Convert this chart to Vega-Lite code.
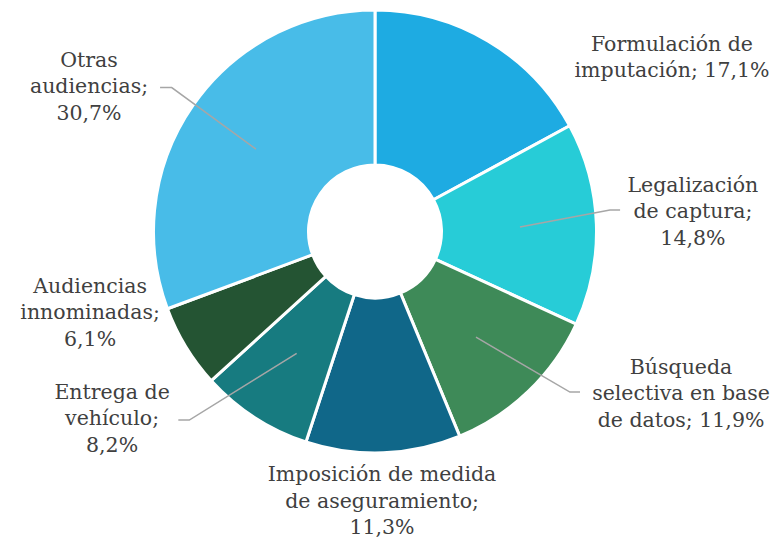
{
  "$schema": "https://vega.github.io/schema/vega-lite/v6.json",
  "width": 750,
  "height": 463,
  "padding": 0,
  "background": "white",
  "config": {"view": {"stroke": null}},
  "datasets": {
    "sectores": [
      {"categoria": "Formulación de imputación", "valor": 17.1, "orden": 1},
      {"categoria": "Legalización de captura", "valor": 14.8, "orden": 2},
      {"categoria": "Búsqueda selectiva en base de datos", "valor": 11.9, "orden": 3},
      {"categoria": "Imposición de medida de aseguramiento", "valor": 11.3, "orden": 4},
      {"categoria": "Entrega de vehículo", "valor": 8.2, "orden": 5},
      {"categoria": "Audiencias innominadas", "valor": 6.1, "orden": 6},
      {"categoria": "Otras audiencias", "valor": 30.7, "orden": 7}
    ],
    "etiquetas": [
      {"etiqueta": "Formulación de\nimputación; 17,1%", "u": 1.35, "v": 0.848},
      {"etiqueta": "Legalización\nde captura;\n14,8%", "u": 1.445, "v": 0.207},
      {"etiqueta": "Búsqueda\nselectiva en base\nde datos; 11,9%", "u": 1.391, "v": -0.62},
      {"etiqueta": "Imposición de medida\nde aseguramiento;\n11,3%", "u": 0.032, "v": -1.107},
      {"etiqueta": "Entrega de\nvehículo;\n8,2%", "u": -1.195, "v": -0.734},
      {"etiqueta": "Audiencias\ninnominadas;\n6,1%", "u": -1.295, "v": -0.252},
      {"etiqueta": "Otras\naudiencias;\n30,7%", "u": -1.3, "v": 0.775}
    ],
    "guias": [
      {"linea": "Otras", "punto": 1, "u": -0.541, "v": 0.374},
      {"linea": "Otras", "punto": 2, "u": -0.924, "v": 0.654},
      {"linea": "Otras", "punto": 3, "u": -0.977, "v": 0.654},
      {"linea": "Legalizacion", "punto": 1, "u": 0.659, "v": 0.02},
      {"linea": "Legalizacion", "punto": 2, "u": 1.068, "v": 0.098},
      {"linea": "Legalizacion", "punto": 3, "u": 1.114, "v": 0.098},
      {"linea": "Busqueda", "punto": 1, "u": 0.459, "v": -0.48},
      {"linea": "Busqueda", "punto": 2, "u": 0.886, "v": -0.73},
      {"linea": "Busqueda", "punto": 3, "u": 0.932, "v": -0.73},
      {"linea": "Entrega", "punto": 1, "u": -0.356, "v": -0.554},
      {"linea": "Entrega", "punto": 2, "u": -0.844, "v": -0.857},
      {"linea": "Entrega", "punto": 3, "u": -0.894, "v": -0.857}
    ]
  },
  "layer": [
    {
      "data": {"name": "sectores"},
      "mark": {"type": "arc", "outerRadius": 221.5, "innerRadius": 66.5, "stroke": "white", "strokeWidth": 3},
      "encoding": {
        "theta": {"field": "valor", "type": "quantitative", "stack": true},
        "order": {"field": "orden", "type": "quantitative"},
        "color": {
          "field": "categoria",
          "type": "nominal",
          "legend": null,
          "scale": {
            "domain": ["Formulación de imputación", "Legalización de captura", "Búsqueda selectiva en base de datos", "Imposición de medida de aseguramiento", "Entrega de vehículo", "Audiencias innominadas", "Otras audiencias"],
            "range": ["#1eabe2", "#27ccd7", "#3e8a58", "#106789", "#177b80", "#245433", "#48bce8"]
          }
        }
      }
    },
    {
      "data": {"name": "guias"},
      "mark": {"type": "line", "color": "#a6a6a6", "strokeWidth": 1.5},
      "encoding": {
        "x": {"field": "u", "type": "quantitative", "axis": null, "scale": {"domain": [-1.70455, 1.70455], "nice": false, "zero": false}},
        "y": {"field": "v", "type": "quantitative", "axis": null, "scale": {"domain": [-1.05227, 1.05227], "nice": false, "zero": false}},
        "detail": {"field": "linea", "type": "nominal"},
        "order": {"field": "punto", "type": "quantitative"}
      }
    },
    {
      "data": {"name": "etiquetas"},
      "mark": {"type": "text", "font": "DejaVu Serif", "fontSize": 20.5, "color": "#404040", "lineBreak": "\n", "lineHeight": 26.5, "align": "center", "baseline": "middle"},
      "encoding": {
        "x": {"field": "u", "type": "quantitative"},
        "y": {"field": "v", "type": "quantitative"},
        "text": {"field": "etiqueta", "type": "nominal"}
      }
    }
  ]
}
